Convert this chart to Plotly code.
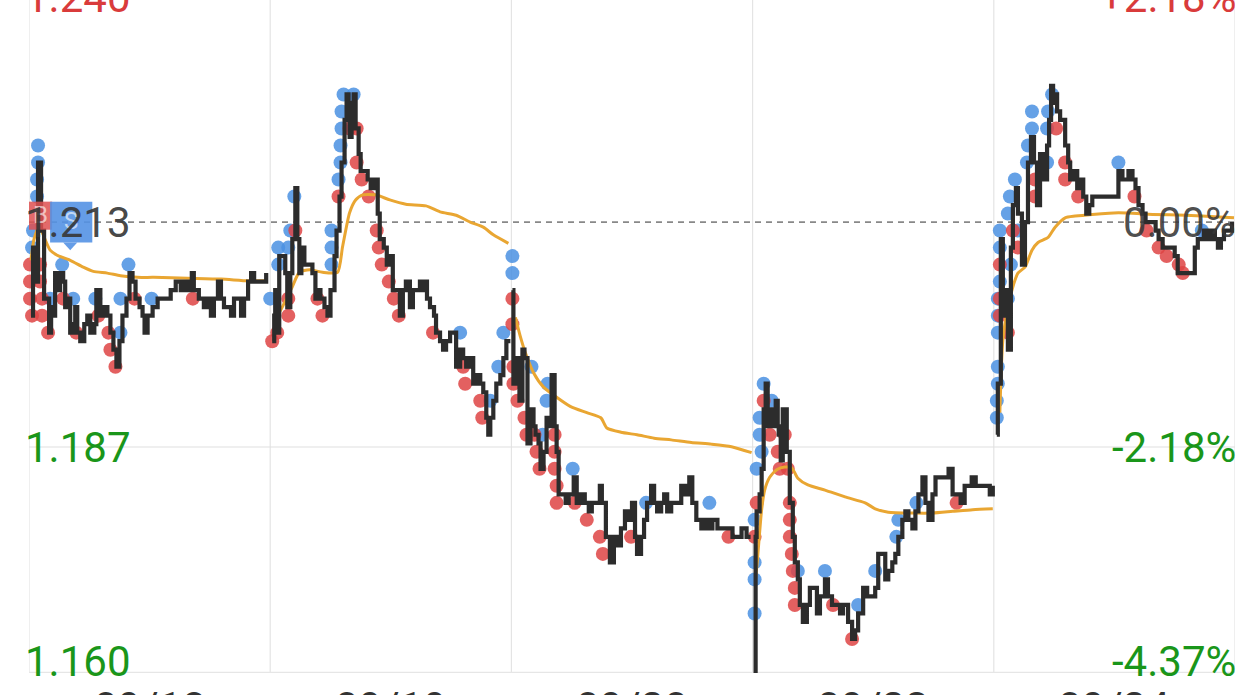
import plotly.graph_objects as go

# ---------------- data ----------------
DAY_LABELS = ["09/18", "09/19", "09/20", "09/23", "09/24"]
PREV_CLOSE = 1.213
MINUTES_PER_DAY = 240
LEVEL_UP = 1.2394      # +2.18 %
LEVEL_DN1 = 1.18656    # -2.18 %
LEVEL_DN2 = 1.160      # -4.37 %
Y_TOP = 1.2391

d1_min = [2,4,6,9,12,15,20,22,24,26,29,31,34,36,39,41,44,46,48,51,55,58,61,65,67,71,74,78,81,84,87,90,93,97,100,103,106,110,113,115,118,123,128,134,141,146,151,154,158,162,164,169,174,178,181,184,188,191,194,198,201,204,208,211,214,218,221,224,228,231,236]
d1_px = [1.202,1.210,1.206,1.220,1.212,1.204,1.200,1.203,1.202,1.207,1.205,1.207,1.206,1.203,1.204,1.200,1.201,1.203,1.200,1.199,1.201,1.202,1.200,1.201,1.205,1.202,1.203,1.202,1.200,1.198,1.196,1.199,1.202,1.204,1.207,1.206,1.204,1.203,1.202,1.200,1.202,1.203,1.204,1.204,1.205,1.206,1.205,1.206,1.205,1.207,1.205,1.204,1.203,1.204,1.202,1.204,1.206,1.204,1.203,1.203,1.202,1.204,1.204,1.202,1.204,1.206,1.207,1.206,1.206,1.206,1.207]

d2_min = [2,4,5,7,9,12,15,17,20,22,25,27,29,31,34,37,40,42,45,47,50,54,57,60,64,66,69,71,74,76,78,79,81,83,85,88,90,94,97,100,104,107,109,113,116,119,122,125,129,132,135,139,142,146,149,151,154,156,159,163,165,169,172,175,179,182,185,189,192,195,199,202,205,209,212,215,217,219,222,225,229,232,235,239]
d2_px = [1.199,1.202,1.205,1.200,1.209,1.209,1.207,1.203,1.207,1.211,1.217,1.211,1.207,1.210,1.208,1.208,1.208,1.207,1.204,1.205,1.204,1.203,1.202,1.205,1.209,1.212,1.216,1.220,1.225,1.228,1.226,1.223,1.227,1.228,1.224,1.221,1.219,1.219,1.218,1.217,1.218,1.214,1.211,1.210,1.208,1.209,1.205,1.205,1.202,1.205,1.206,1.203,1.205,1.205,1.206,1.205,1.206,1.204,1.203,1.202,1.200,1.199,1.198,1.199,1.200,1.200,1.196,1.198,1.197,1.196,1.197,1.194,1.195,1.194,1.193,1.190,1.188,1.190,1.192,1.194,1.195,1.197,1.199,1.199]

d3_min = [1,2,5,8,11,13,16,19,22,24,27,29,32,35,37,40,43,45,47,50,54,57,62,65,69,73,77,80,85,88,90,94,98,102,105,109,113,116,120,123,125,129,132,135,139,142,145,149,152,155,159,162,165,169,173,177,180,184,189,193,196,200,205,212,217,220,225,229,234,238]
d3_px = [1.205,1.194,1.197,1.192,1.198,1.197,1.187,1.191,1.189,1.188,1.187,1.184,1.186,1.190,1.189,1.195,1.189,1.186,1.181,1.181,1.180,1.181,1.183,1.180,1.181,1.180,1.179,1.180,1.180,1.182,1.180,1.176,1.173,1.176,1.175,1.177,1.179,1.178,1.180,1.176,1.174,1.176,1.178,1.180,1.182,1.180,1.179,1.180,1.181,1.179,1.180,1.180,1.180,1.182,1.181,1.183,1.180,1.178,1.177,1.178,1.177,1.178,1.177,1.177,1.177,1.176,1.176,1.177,1.176,1.176]

d4_min = [1,3,4,7,9,11,13,15,18,21,23,25,26,28,30,31,34,37,40,42,45,47,50,54,57,60,64,67,72,75,79,82,87,90,95,99,102,105,110,114,119,122,125,129,132,135,139,142,145,149,152,155,159,162,165,169,172,175,179,182,187,192,195,199,204,207,211,214,218,222,227,232,236,239]
d4_px = [1.158,1.176,1.179,1.181,1.184,1.191,1.194,1.189,1.191,1.189,1.192,1.189,1.188,1.185,1.191,1.191,1.186,1.180,1.176,1.173,1.171,1.168,1.166,1.168,1.170,1.170,1.167,1.169,1.171,1.169,1.168,1.168,1.167,1.168,1.166,1.164,1.165,1.167,1.170,1.169,1.169,1.170,1.174,1.174,1.171,1.172,1.173,1.174,1.176,1.178,1.179,1.178,1.177,1.179,1.181,1.183,1.180,1.178,1.181,1.183,1.183,1.183,1.184,1.181,1.181,1.180,1.182,1.182,1.183,1.182,1.182,1.182,1.181,1.182]

d5_min = [3,4,7,9,12,14,17,19,22,24,28,31,34,37,40,43,46,49,53,55,57,59,61,63,66,68,71,74,76,79,83,86,89,92,95,98,104,111,117,121,124,128,131,134,138,141,144,148,151,154,158,161,164,168,173,177,180,183,188,193,197,200,203,206,209,213,216,220,223,226,229,233,237]
d5_px = [1.188,1.194,1.211,1.202,1.205,1.198,1.210,1.215,1.217,1.214,1.208,1.213,1.220,1.223,1.220,1.215,1.221,1.218,1.222,1.225,1.229,1.227,1.228,1.226,1.225,1.225,1.222,1.220,1.218,1.219,1.217,1.218,1.216,1.214,1.215,1.216,1.216,1.216,1.216,1.216,1.219,1.218,1.218,1.219,1.218,1.217,1.215,1.214,1.213,1.213,1.213,1.212,1.211,1.210,1.210,1.210,1.209,1.207,1.207,1.207,1.207,1.210,1.211,1.211,1.212,1.211,1.212,1.211,1.210,1.211,1.212,1.212,1.213]

# average-price line (per day)
v1_min = [2,5,10,21,28,41,54,64,78,91,108,124,158,191,218,236]
v1_val = [1.2085,1.2110,1.2124,1.2097,1.2091,1.2085,1.2077,1.2072,1.2070,1.2067,1.2065,1.2065,1.2064,1.2063,1.2061,1.2061]
v2_min = [5,12,22,29,39,52,67,72,79,85,92,105,119,135,155,169,185,199,212,222,237]
v2_val = [1.2015,1.2030,1.2054,1.2071,1.2074,1.2071,1.2071,1.2101,1.2141,1.2156,1.2162,1.2162,1.2156,1.2151,1.2149,1.2142,1.2138,1.2130,1.2124,1.2115,1.2105]
v3_min = [4,9,14,22,32,45,59,75,89,95,109,125,142,159,179,199,219,239]
v3_val = [1.2018,1.1995,1.1976,1.1953,1.1936,1.1924,1.1913,1.1906,1.1900,1.1888,1.1883,1.1880,1.1876,1.1874,1.1871,1.1869,1.1866,1.1859]
v4_min = [3,5,9,12,17,24,32,39,45,55,72,92,112,122,135,159,179,199,219,239]
v4_val = [1.1710,1.1736,1.1792,1.1815,1.1830,1.1839,1.1842,1.1841,1.1829,1.1821,1.1815,1.1807,1.1800,1.1793,1.1789,1.1788,1.1788,1.1790,1.1792,1.1793]
v5_min = [6,9,14,19,24,31,38,44,54,61,71,81,98,124,158,191,224,239]
v5_val = [1.1906,1.1991,1.2030,1.2054,1.2070,1.2077,1.2097,1.2106,1.2112,1.2124,1.2135,1.2137,1.2139,1.2141,1.2139,1.2138,1.2136,1.2135]

# trade dots (global minute index, price)
buy_t = [9,9,8,8,4,3,33,21,44,66,91,91,99,122,
         240,248,248,258,260,264,301,301,301,308,310,310,311,311,313,323,429,459,467,472,
         481,481,500,516,515,511,541,614,677,
         731,739,727,727,729,724,722,722,722,722,765,792,825,842,863,865,883,
         963,963,964,964,964,964,964,966,966,966,974,976,981,993,994,998,998,1013,1014,1018,1013,977,984,1084,1167,974]
buy_p = [1.222,1.220,1.218,1.216,1.212,1.210,1.208,1.204,1.204,1.204,1.200,1.204,1.208,1.204,
         1.204,1.210,1.208,1.210,1.212,1.216,1.208,1.210,1.212,1.218,1.220,1.222,1.224,1.226,1.228,1.228,1.200,1.192,1.196,1.200,
         1.209,1.207,1.196,1.194,1.192,1.188,1.184,1.180,1.180,
         1.194,1.192,1.190,1.188,1.186,1.184,1.178,1.173,1.171,1.167,1.172,1.172,1.168,1.172,1.176,1.178,1.180,
         1.190,1.192,1.194,1.196,1.200,1.202,1.204,1.206,1.210,1.212,1.214,1.216,1.218,1.220,1.222,1.224,1.226,1.224,1.226,1.228,1.220,1.208,1.212,1.220,1.212,1.204]
sell_t = [1,1,1,3,11,11,13,13,19,34,47,69,79,81,86,105,163,
          242,247,258,258,265,292,287,308,319,326,326,331,338,346,348,351,358,363,368,402,432,434,449,451,
          481,481,482,482,486,493,495,503,505,508,523,523,523,525,525,543,555,568,571,599,696,
          731,737,752,745,747,755,724,722,757,757,757,759,760,762,762,800,819,923,
          966,966,966,974,979,984,1001,1001,1022,1031,1031,1044,1100,1112,1124,1132,1144,1148]
sell_p = [1.208,1.206,1.204,1.202,1.208,1.206,1.204,1.202,1.200,1.204,1.200,1.202,1.200,1.198,1.196,1.204,1.204,
          1.199,1.200,1.202,1.204,1.212,1.202,1.204,1.216,1.224,1.224,1.220,1.218,1.216,1.212,1.210,1.208,1.206,1.204,1.202,1.200,1.196,1.194,1.192,1.190,
          1.204,1.201,1.196,1.194,1.192,1.190,1.188,1.188,1.186,1.184,1.188,1.186,1.184,1.182,1.180,1.180,1.178,1.176,1.174,1.176,1.176,
          1.192,1.188,1.188,1.186,1.184,1.184,1.180,1.176,1.180,1.178,1.176,1.174,1.172,1.170,1.168,1.168,1.164,1.180,
          1.208,1.204,1.202,1.200,1.212,1.210,1.218,1.216,1.224,1.220,1.218,1.216,1.216,1.212,1.210,1.209,1.208,1.207]

# ---------------- build ----------------
def join_days(mins_list, vals_list):
    xs, ys = [], []
    for d, (ms, vs) in enumerate(zip(mins_list, vals_list)):
        xs += [d * MINUTES_PER_DAY + m for m in ms] + [None]
        ys += list(vs) + [None]
    return xs, ys

px_x, px_y = join_days([d1_min, d2_min, d3_min, d4_min, d5_min],
                       [d1_px, d2_px, d3_px, d4_px, d5_px])
av_x, av_y = join_days([v1_min, v2_min, v3_min, v4_min, v5_min],
                       [v1_val, v2_val, v3_val, v4_val, v5_val])

FONT = "Roboto"
RED = "#d93b3b"
GREEN = "#1a961a"
FS = 42

fig = go.Figure()
fig.add_trace(go.Scatter(x=buy_t, y=buy_p, mode="markers", cliponaxis=False,
                         marker=dict(size=14, color="rgba(74,144,226,0.85)", line=dict(width=0)),
                         hoverinfo="skip"))
fig.add_trace(go.Scatter(x=sell_t, y=sell_p, mode="markers", cliponaxis=False,
                         marker=dict(size=14, color="rgba(222,68,68,0.85)", line=dict(width=0)),
                         hoverinfo="skip"))
fig.add_trace(go.Scatter(x=av_x, y=av_y, mode="lines", connectgaps=False,
                         line=dict(color="#e9a632", width=3, shape="spline", smoothing=0.6),
                         hoverinfo="skip"))
fig.add_trace(go.Scatter(x=px_x, y=px_y, mode="lines", connectgaps=False,
                         line=dict(color="#2c2c2c", width=4.2, shape="hv"),
                         hoverinfo="skip"))

shapes = []
for d in range(len(DAY_LABELS) + 1):
    shapes.append(dict(type="line", xref="x", yref="paper", x0=d * MINUTES_PER_DAY,
                       x1=d * MINUTES_PER_DAY, y0=0, y1=1,
                       line=dict(color="#e4e4e4", width=1.2), layer="below"))
shapes.append(dict(type="line", xref="paper", yref="y", x0=0, x1=1, y0=LEVEL_DN1, y1=LEVEL_DN1,
                   line=dict(color="#e0e0e0", width=1.2), layer="below"))
shapes.append(dict(type="line", xref="paper", yref="y", x0=0, x1=1, y0=LEVEL_DN2, y1=LEVEL_DN2,
                   line=dict(color="#e6e6e6", width=2.5), layer="below"))
shapes.append(dict(type="line", xref="paper", yref="y", x0=0, x1=1, y0=PREV_CLOSE, y1=PREV_CLOSE,
                   line=dict(color="#888888", width=1.8, dash="6px,5px"), layer="below"))
# badge
shapes.append(dict(type="rect", xref="x", yref="y", x0=-1, x1=23, y0=1.2121, y1=1.2154,
                   fillcolor="rgba(222,80,80,0.85)", line=dict(width=0)))
shapes.append(dict(type="rect", xref="x", yref="y", x0=21, x1=63, y0=1.2106, y1=1.2154,
                   fillcolor="rgba(84,146,228,0.9)", line=dict(width=0)))
shapes.append(dict(type="path", xref="x", yref="y",
                   path="M 34 1.2106 L 48 1.2106 L 41 1.2097 Z",
                   fillcolor="rgba(84,146,228,0.9)", line=dict(width=0)))
fig.update_layout(shapes=shapes)


def to_paper(v):
    return (v - LEVEL_DN2) / (Y_TOP - LEVEL_DN2)


ann = []
def lab(text, side, y, color):
    left = side == "left"
    ann.append(dict(text=text, x=0 if left else 1, xref="paper",
                    xanchor="left" if left else "right", xshift=-6 if left else 3,
                    y=to_paper(y), yref="paper", yanchor="middle", showarrow=False,
                    font=dict(family=FONT, size=FS, color=color)))

lab("1.240", "left", LEVEL_UP, RED)
lab("+2.18%", "right", LEVEL_UP, RED)
lab("1.187", "left", LEVEL_DN1, GREEN)
lab("-2.18%", "right", LEVEL_DN1, GREEN)
lab("1.160", "left", 1.1613, GREEN)
lab("-4.37%", "right", 1.1613, GREEN)
lab("0.00%", "right", PREV_CLOSE, "rgba(55,55,55,0.9)")
ann.append(dict(text="B", x=11, xref="x", y=1.2138, yref="y", showarrow=False,
                font=dict(family=FONT, size=24, color="rgba(255,255,255,0.6)")))
ann.append(dict(text="S", x=42, xref="x", y=1.2131, yref="y", showarrow=False,
                font=dict(family=FONT, size=24, color="rgba(255,255,255,0.6)")))
lab("1.213", "left", PREV_CLOSE, "rgba(55,55,55,0.92)")
for d, t in enumerate(DAY_LABELS):
    ann.append(dict(text=t, x=d * MINUTES_PER_DAY + MINUTES_PER_DAY / 2, xref="x",
                    y=-0.012, yref="paper", yanchor="top", showarrow=False,
                    font=dict(family=FONT, size=FS, color="#333333")))

fig.update_layout(
    annotations=ann,
    width=1258, height=695,
    margin=dict(l=29, r=23, t=0, b=22),
    paper_bgcolor="white", plot_bgcolor="white",
    showlegend=False,
    xaxis=dict(range=[0, MINUTES_PER_DAY * len(DAY_LABELS)], showgrid=False, zeroline=False,
               showticklabels=False, showline=False, fixedrange=True),
    yaxis=dict(range=[LEVEL_DN2, Y_TOP], showgrid=False, zeroline=False,
               showticklabels=False, showline=False, fixedrange=True),
)

POST = """
var s = document.createElement('style');
s.innerHTML = 'html,body{margin:0;padding:0;overflow:hidden;}';
document.head.appendChild(s);
var gd = document.getElementById('{plot_id}');
Plotly.newPlot(gd, gd.data, gd.layout, {displayModeBar: false, staticPlot: true});
"""

fig.write_html("out.html", config={"displayModeBar": False}, post_script=POST)
